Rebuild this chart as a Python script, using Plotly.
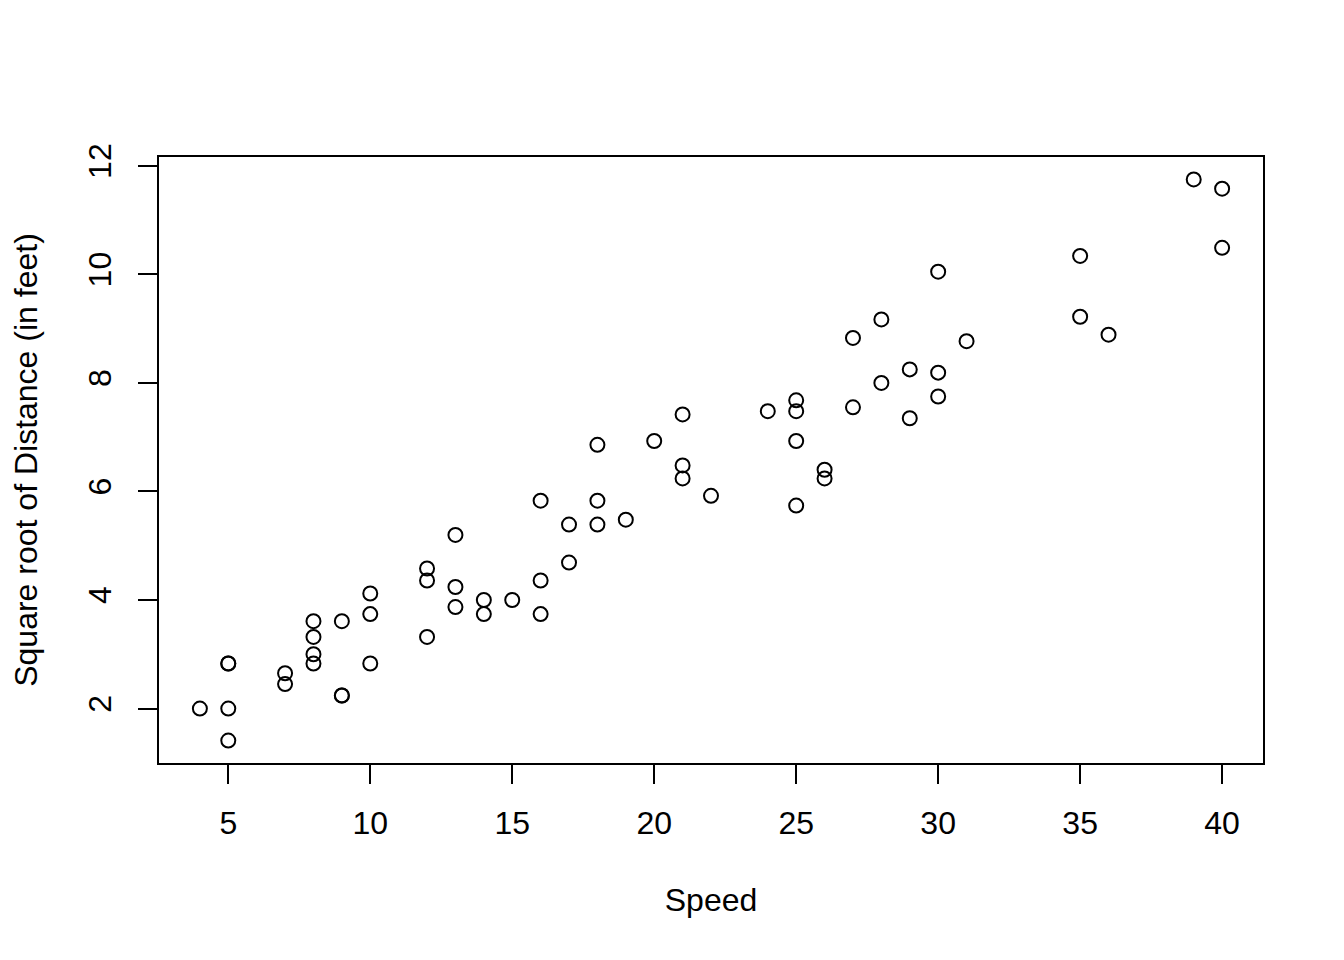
import plotly.graph_objects as go

speed = [4, 5, 5, 5, 5, 7, 7, 8, 8, 8, 8, 9, 9, 9, 10, 10, 10,
         12, 12, 12, 13, 13, 13, 14, 14, 15, 16, 16, 16, 17, 17,
         18, 18, 18, 19, 20, 21, 21, 21, 22, 24, 25, 25, 25, 25,
         26, 26, 27, 27, 28, 28, 29, 29, 30, 30, 30, 31, 35, 35,
         36, 39, 40, 40]
sqrt_dist = [2.00, 2.83, 2.83, 2.00, 1.41, 2.65, 2.45, 3.61, 3.32, 3.00, 2.83, 3.61, 2.24, 2.24, 4.12, 3.74, 2.83,
             4.58, 4.36, 3.32, 5.20, 4.24, 3.87, 4.00, 3.74, 4.00, 5.83, 4.36, 3.74, 5.39, 4.69,
             6.86, 5.83, 5.39, 5.48, 6.93, 7.42, 6.48, 6.24, 5.92, 7.48, 7.68, 7.48, 6.93, 5.74,
             6.40, 6.24, 8.83, 7.55, 9.17, 8.00, 8.25, 7.35, 10.05, 8.19, 7.75, 8.77, 10.34, 9.22,
             8.89, 11.75, 11.58, 10.49]

x_ticks = [5, 10, 15, 20, 25, 30, 35, 40]
y_ticks = [2, 4, 6, 8, 10, 12]

FONT = "Liberation Sans, Arial, Helvetica, sans-serif"

fig = go.Figure()
fig.add_trace(go.Scatter(
    x=speed, y=sqrt_dist, mode="markers",
    marker=dict(symbol="circle-open", size=14, color="black",
                line=dict(color="black", width=2)),
    showlegend=False, hoverinfo="x+y",
))

xmin, xmax = min(speed), max(speed)
ymin, ymax = min(sqrt_dist), max(sqrt_dist)
xpad = 0.04 * (xmax - xmin)
ypad = 0.04 * (ymax - ymin)

fig.update_layout(
    width=1344, height=960,
    margin=dict(l=149, r=89, t=149, b=205),
    paper_bgcolor="white", plot_bgcolor="white",
    font=dict(family=FONT, size=32, color="black"),
    xaxis=dict(
        range=[xmin - xpad, xmax + xpad],
        tickmode="array", tickvals=x_ticks, ticktext=[str(v) for v in x_ticks],
        ticks="outside", ticklen=19, tickwidth=2, tickcolor="black",
        showline=True, linewidth=2, linecolor="black", mirror=True,
        showgrid=False, zeroline=False,
        ticklabelstandoff=12,
        tickfont=dict(size=32),
        title=dict(text="Speed", font=dict(size=32), standoff=48),
    ),
    yaxis=dict(
        range=[ymin - ypad, ymax + ypad],
        tickmode="array", tickvals=y_ticks, ticktext=[str(v) for v in y_ticks],
        ticks="outside", ticklen=19, tickwidth=2, tickcolor="black",
        showline=True, linewidth=2, linecolor="black", mirror=True,
        showgrid=False, zeroline=False,
        tickangle=-90,
        ticklabelstandoff=14,
        tickfont=dict(size=32),
        title=dict(text="Square root of Distance (in feet)", font=dict(size=32), standoff=40),
    ),
)

fig.write_html("out.html")
